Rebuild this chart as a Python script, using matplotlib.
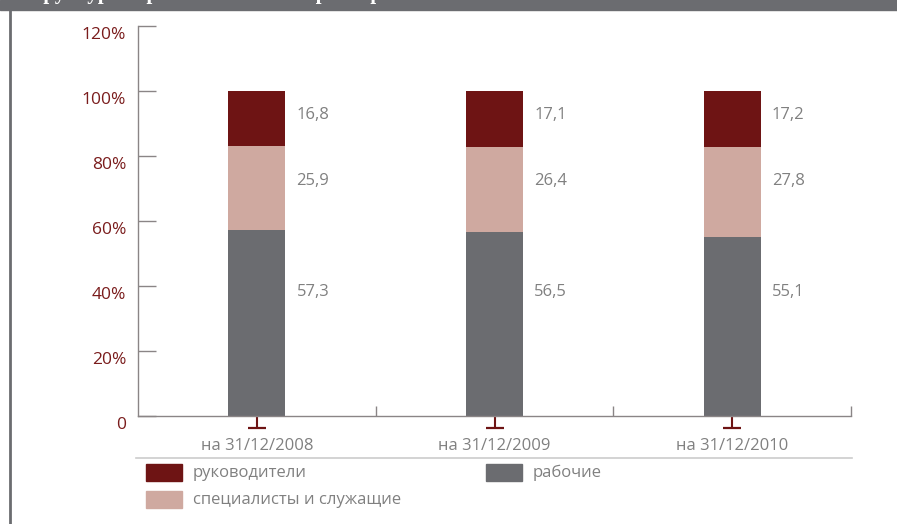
import numpy as np
import matplotlib.pyplot as plt
from matplotlib.patches import Rectangle
from matplotlib.lines import Line2D
import matplotlib.transforms as mtransforms

# staff structure by category, % of headcount
dates = ['на 31/12/2008', 'на 31/12/2009', 'на 31/12/2010']
workers = [57.3, 56.5, 55.1]
specialists = [25.9, 26.4, 27.8]
managers = [16.8, 17.1, 17.2]

series_names = ['рабочие', 'специалисты и служащие', 'руководители']
y_ticks = [0, 20, 40, 60, 80, 100, 120]
y_tick_labels = ['0', '20%', '40%', '60%', '80%', '100%', '120%']

c_workers = '#6b6c70'
c_spec = '#cfa9a0'
c_mgr = '#6e1414'
c_red_text = '#7a1c1c'
c_grey_text = '#808080'
c_axis = '#8a8586'

plt.rcParams['font.family'] = ['Open Sans', 'DejaVu Sans']

fig = plt.figure(figsize=(8.97, 5.24), dpi=100)
W, H = 897, 524

# header band and left border
fig.patches.append(Rectangle((0, 1 - 10 / H), 1, 10 / H, transform=fig.transFigure,
                             color=c_workers, zorder=0))
fig.text(0.02, 1 + 6 / H, 'Структура персонала по категориям работников', color='white',
         fontsize=15, fontweight='bold', family='Liberation Serif', va='center', ha='left')
fig.add_artist(Line2D([10 / W, 10 / W], [0, 1], transform=fig.transFigure,
                      color=c_workers, lw=2))

ax = fig.add_axes([138 / W, 1 - 416 / H, (851 - 138) / W, (416 - 26) / H])
x = np.arange(len(dates))
width = 0.24

series = [workers, specialists, managers]
colors = [c_workers, c_spec, c_mgr]
bottom = np.zeros(len(dates))
label_y = [38, 72.2, 92.6]
for vals, col, ly in zip(series, colors, label_y):
    ax.bar(x, vals, width, bottom=bottom, color=col, zorder=2)
    for xi, v in zip(x, vals):
        ax.annotate(f'{v:.1f}'.replace('.', ','), (xi + width / 2, ly),
                    xytext=(8, 0), textcoords='offset points', va='center',
                    ha='left', fontsize=12, color=c_grey_text)
    bottom += np.array(vals)

ax.set_xlim(-0.5, 2.5)
ax.set_ylim(0, 120)
ax.set_yticks(y_ticks)
ax.set_yticklabels(y_tick_labels, fontsize=12.5, color=c_red_text)
ax.tick_params(axis='y', direction='in', length=13, width=1, color=c_axis, pad=8.5)
# labels sit a little below their tick lines
shift = mtransforms.ScaledTranslation(0, -7 / 100, fig.dpi_scale_trans)
for lbl in ax.get_yticklabels():
    lbl.set_transform(lbl.get_transform() + shift)
ax.yaxis.get_major_ticks()[0].tick1line.set_color(c_mgr)

# red marks under each bar, grey ticks at category borders
ax.set_xticks(x)
ax.set_xticklabels(dates, fontsize=12, color=c_grey_text)
ax.tick_params(axis='x', which='major', direction='out', length=8.6, width=1.5,
               color=c_mgr, pad=7)
ax.set_xticks([0.5, 1.5, 2.5], minor=True)
ax.tick_params(axis='x', which='minor', direction='in', length=7, width=1, color=c_axis)
trans = mtransforms.blended_transform_factory(ax.transData, ax.transAxes)
ax.plot(x, [-12 / 390] * len(x), ls='none', marker='_', ms=12.5, mew=1.6,
        color=c_mgr, transform=trans, clip_on=False)

for s in ['top', 'right']:
    ax.spines[s].set_visible(False)
for s in ['left', 'bottom']:
    ax.spines[s].set_color(c_axis)
    ax.spines[s].set_linewidth(1)

# legend
fig.add_artist(Line2D([136 / W, 852 / W], [1 - 458 / H] * 2, transform=fig.transFigure,
                      color='#cccccc', lw=1.2))
legend_items = [(series_names[2], c_mgr, 146, 472),
                (series_names[1], c_spec, 146, 499),
                (series_names[0], c_workers, 486, 472)]
for name, col, px, py in legend_items:
    fig.patches.append(Rectangle((px / W, 1 - (py + 8.5) / H), 36 / W, 17 / H,
                                 transform=fig.transFigure, color=col))
    fig.text((px + 47) / W, 1 - (py + 1) / H, name, fontsize=12, color=c_grey_text,
             va='center', ha='left')

plt.savefig('out.png', dpi=100)
